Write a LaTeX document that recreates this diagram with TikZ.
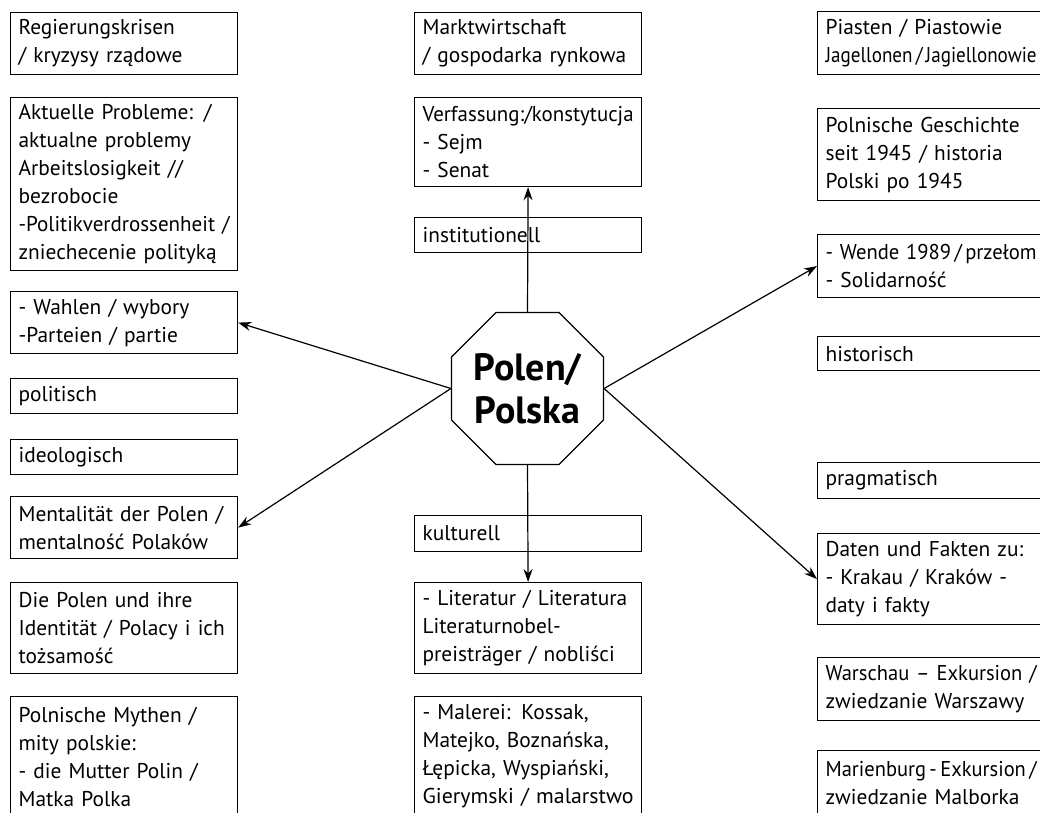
\documentclass[tikz,border=0pt]{standalone}
\usepackage{fontspec}
\usepackage{graphicx}
\setmainfont{PT Sans}
\usetikzlibrary{arrows.meta,shapes.geometric}

\newcommand{\fillline}[1]{\makebox[\linewidth][s]{#1}}
\newcommand{\squeeze}[1]{\resizebox{\linewidth}{\height}{#1}}

\begin{document}
\begin{tikzpicture}[x=0.5pt,y=-0.5pt,
  box/.style={draw,line width=0.6pt,anchor=north west,align=left,
    text width=105.5pt,inner xsep=4pt,inner ysep=2pt,
    font=\fontsize{10.7}{14}\selectfont},
  hub/.style={draw,line width=0.6pt,regular polygon,regular polygon sides=8,
    minimum size=81.7pt,inner sep=0pt,align=center,
    font=\fontsize{19}{21.5}\selectfont\bfseries},
  link/.style={line width=0.6pt,-{Stealth[length=6.5pt,width=4.5pt]}}]
  \clip (0,0) rectangle (1040,813);
  \fill[white] (0,0) rectangle (1040,813);

  % left column
  \node[box,minimum height=31pt] (krisen) at (10,12) {Regierungskrisen\\/ kryzysy rządowe};
  \node[box,minimum height=86.5pt] (probleme) at (10,97) {Aktuelle Probleme: /\\aktualne problemy\\Arbeitslosigkeit //\\bezrobocie\\\squeeze{-Politikverdrossenheit /}\\zniechecenie polityką};
  \node[box,minimum height=31pt] (wahlen) at (10,291) {- Wahlen / wybory\\-Parteien / partie};
  \node[box,minimum height=17.5pt] (politisch) at (10,378) {politisch};
  \node[box,minimum height=17.5pt] (ideologisch) at (10,439) {ideologisch};
  \node[box,minimum height=31pt] (mentalitaet) at (10,496) {Mentalität der Polen /\\mentalność Polaków};
  \node[box,minimum height=45.5pt] (identitaet) at (10,582) {\fillline{Die Polen und ihre}\\\fillline{Identität / Polacy i ich}\\tożsamość};
  \node[box,minimum height=60pt] (mythen) at (10,696) {Polnische Mythen /\\mity polskie:\\- die Mutter Polin /\\Matka Polka};

  % middle column
  \node[box,minimum height=31pt] (markt) at (414,12) {Marktwirtschaft\\/ gospodarka rynkowa};
  \node[box,minimum height=44.5pt] (verfassung) at (414,97) {\squeeze{Verfassung:/konstytucja}\\- Sejm\\- Senat};
  \node[box,minimum height=17.5pt] (institutionell) at (414,217) {institutionell};
  \node[hub] (polen) at (527.5,388.5) {Polen/\\Polska};
  \node[box,minimum height=18pt] (kulturell) at (414,515) {kulturell};
  \node[box,minimum height=45.5pt] (literatur) at (414,582) {- Literatur / Literatura\\Literaturnobel-\\preisträger / nobliści};
  \node[box,minimum height=60pt] (malerei) at (414,696) {- Malerei: Kossak,\\Matejko, Boznańska,\\Łępicka, Wyspiański,\\\squeeze{Gierymski / malarstwo}};

  % right column
  \node[box,minimum height=31.5pt] (piasten) at (817,11) {Piasten / Piastowie\\\squeeze{Jagellonen\,/\,Jagiellonowie}};
  \node[box,minimum height=46pt] (geschichte) at (817,108) {\fillline{Polnische Geschichte}\\seit 1945 / historia\\Polski po 1945};
  \node[box,minimum height=31.5pt] (wende) at (817,234) {\squeeze{- Wende 1989\,/\,przełom}\\- Solidarność};
  \node[box,minimum height=17pt] (historisch) at (817,336) {historisch};
  \node[box,minimum height=18pt] (pragmatisch) at (817,462) {pragmatisch};
  \node[box,minimum height=45.5pt] (daten) at (817,533) {Daten und Fakten zu:\\- Krakau / Kraków -\\daty i fakty};
  \node[box,minimum height=31.5pt] (warschau) at (817,657) {\squeeze{Warschau -- Exkursion /}\\zwiedzanie Warszawy};
  \node[box,minimum height=32pt] (marienburg) at (817,750) {\squeeze{Marienburg\,-\,Exkursion\,/}\\zwiedzanie Malborka};

  % arrows
  \draw[link] (polen.north) -- (verfassung.south);
  \draw[link] (polen.south) -- (literatur.north);
  \draw[link] (polen.west) -- (wahlen.east);
  \draw[link] (polen.west) -- (mentalitaet.east);
  \draw[link] (polen.east) -- (wende.west);
  \draw[link] (polen.east) -- (daten.west);
\end{tikzpicture}
\end{document}
